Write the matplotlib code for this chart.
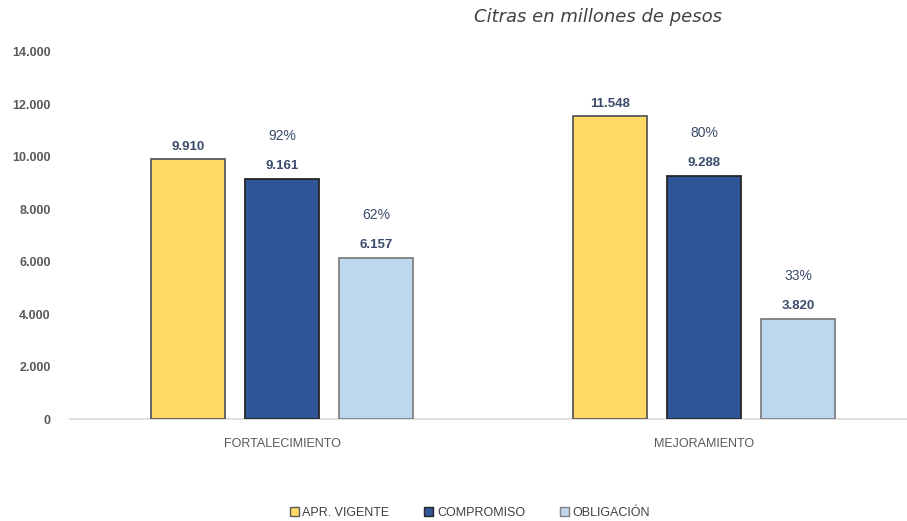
import matplotlib
matplotlib.use("Agg")
import matplotlib.pyplot as plt
from matplotlib.patches import Patch

categories = ["FORTALECIMIENTO", "MEJORAMIENTO"]
series_names = ["APR. VIGENTE", "COMPROMISO", "OBLIGACIÓN"]
apr_vigente = [9910, 11548]
compromiso = [9161, 9288]
obligacion = [6157, 3820]
pct_compromiso = ["92%", "80%"]
pct_obligacion = ["62%", "33%"]
yticks = [0, 2000, 4000, 6000, 8000, 10000, 12000, 14000]
ytick_labels = ["0", "2.000", "4.000", "6.000", "8.000", "10.000", "12.000", "14.000"]

colors = ["#FFD966", "#2F5597", "#BDD7EE"]
edges = ["#595959", "#262626", "#7F7F7F"]
label_color = "#3A4A6B"

W, H = 907, 521
fig = plt.figure(figsize=(W / 100, H / 100), dpi=100)
ax_left, ax_right = 70, 907
ax_bottom, ax_top = 419, 52
ax = fig.add_axes([ax_left / W, (H - ax_bottom) / H, (ax_right - ax_left) / W, (ax_bottom - ax_top) / H])

# data x: pixel = 282 + 422 * x
px_per = 422.0
ax.set_xlim((ax_left - 282) / px_per, (ax_right - 282) / px_per)
ax.set_ylim(0, 14000)

bw = 74 / px_per
off = 94 / px_per
xs = [0, 1]
all_series = [apr_vigente, compromiso, obligacion]
for i, (vals, c, e) in enumerate(zip(all_series, colors, edges)):
    pos = [x + (i - 1) * off for x in xs]
    ax.bar(pos, vals, width=bw, color=c, edgecolor=e, linewidth=1.3, zorder=3)
    for p, v in zip(pos, vals):
        s = f"{v:,}".replace(",", ".")
        ax.text(p, v + 250, s, ha="center", va="bottom", fontsize=9.5,
                fontweight="bold", color=label_color, family="Liberation Sans", clip_on=False)

for x, pc, v in zip(xs, pct_compromiso, compromiso):
    ax.text(x, v + 1350, pc, ha="center", va="bottom", fontsize=10,
            color=label_color, family="Liberation Sans")
for x, pc, v in zip(xs, pct_obligacion, obligacion):
    ax.text(x + off, v + 1350, pc, ha="center", va="bottom", fontsize=10,
            color=label_color, family="Liberation Sans")

ax.set_yticks(yticks)
ax.set_yticklabels(ytick_labels, fontsize=9, color="#595959", fontweight="bold", family="Liberation Sans")
ax.set_xticks(xs)
ax.set_xticklabels(categories, fontsize=9, color="#595959", family="Liberation Sans")
ax.tick_params(axis="both", length=0)
ax.tick_params(axis="y", pad=14)
ax.tick_params(axis="x", pad=14)
for s in ["top", "right", "left"]:
    ax.spines[s].set_visible(False)
ax.spines["bottom"].set_color("#D9D9D9")
ax.spines["bottom"].set_linewidth(1.2)

fig.text(598 / W, 1 - 17 / H, "Citras en millones de pesos", ha="center", va="center",
         fontsize=13, style="italic", color="#404040", family="DejaVu Sans")

handles = [Patch(facecolor=c, edgecolor=e, linewidth=1.0) for c, e in zip(colors, edges)]
fig.legend(handles, series_names, loc="center", bbox_to_anchor=(470 / W, 1 - 513 / H),
           ncol=3, frameon=False, handlelength=0.7, handleheight=0.7,
           handletextpad=0.3, columnspacing=2.8,
           prop={"family": "Liberation Sans", "size": 9})
for t in fig.legends[0].get_texts():
    t.set_color("#404040")

fig.savefig("out.png", dpi=100)
